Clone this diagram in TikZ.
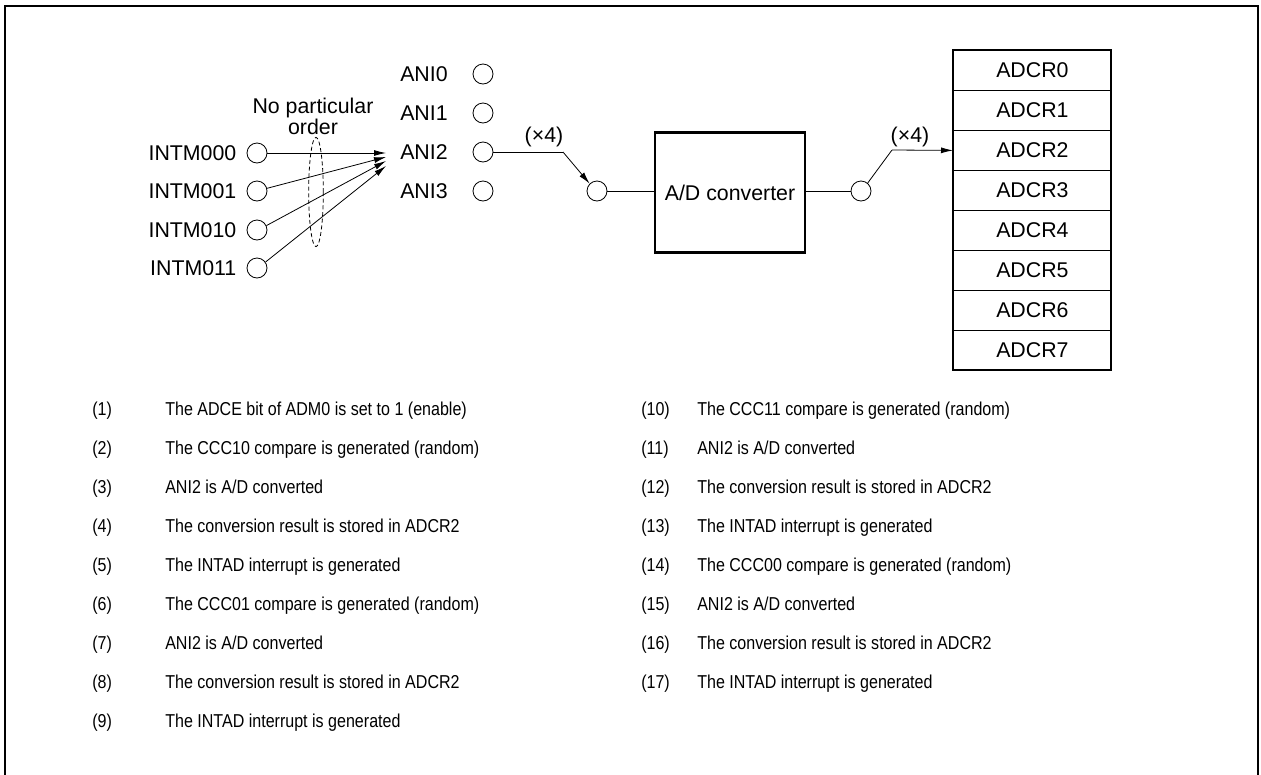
\documentclass[tikz,border=0pt]{standalone}
\usepackage{fontspec}
\setmainfont{Liberation Sans}
\newfontfamily\listfont[FakeStretch=0.86]{Liberation Sans}
\usetikzlibrary{arrows.meta}
\begin{document}
\begin{tikzpicture}[x=0.75pt,y=-0.75pt,
  every node/.style={font=\fontsize{16}{18}\selectfont, inner sep=0pt},
  pin/.style={circle, draw, line width=0.6pt, minimum size=15pt, inner sep=0pt},
  wire/.style={line width=0.6pt},
  arr/.style={wire, -{Latex[length=9pt,width=4.5pt]}},
  thick box/.style={draw, line width=1.6pt},
  cell/.style={draw, line width=0.6pt, minimum width=118.5pt, minimum height=30pt, anchor=north west},
  item/.style={anchor=base west, font=\listfont\fontsize{14}{16}\selectfont}]
\useasboundingbox (0,0) rectangle (1261,775);
% outer frame (open at the bottom)
\draw[line width=1.8pt] (5,780) -- (5,6) -- (1258,6) -- (1258,780);

% INTM inputs
\foreach \n/\y in {000/153,001/191,010/230,011/268}{
  \node[pin] (c\n) at (257,\y) {};
  \node[anchor=east] (t\n) at ([xshift=-7.5pt]c\n.west) {INTM\n};
}
% ANI inputs
\foreach \i/\y in {0/74,1/113,2/152,3/191}{
  \node[anchor=west] (a\i) at (400,\y) {ANI\i};
  \node[pin] (p\i) at (483,\y) {};
}
\coordinate (tip0) at (386,153);
\coordinate (tip1) at (386,157);
\coordinate (tip2) at (386,161);
\coordinate (tip3) at (386,166);
\draw[arr] (c000.east) -- (tip0);
\draw[arr] (c001.15) -- (tip1);
\draw[arr] (c010.25) -- (tip2);
\draw[arr] (c011.35) -- (tip3);
\draw[wire, dash pattern=on 3pt off 2pt] (316,192) ellipse (5.5pt and 41pt);
\node[align=center, font=\fontsize{16}{13}\selectfont] (npo) at (313,116) {No particular\\order};

% first switch
\node[pin] (s1) at (597,191) {};
\coordinate (k1) at (563,152);
\draw[wire] (p2.east) -- (k1);
\draw[arr] (k1) -- (s1.135);
\node (x1) at (544,137) {(\texttimes4)};

% A/D converter
\node[thick box, minimum width=112.5pt, minimum height=90pt] (adc) at (730,192.5) {A/D converter};
\draw[wire] (s1.east) -- (s1.east -| adc.west);
\node[pin] (s2) at (861,191) {};
\draw[wire] (s2.west -| adc.east) -- (s2.west);

% registers
\foreach \r in {0,...,7}{
  \node[cell] (r\r) at (953,{50+40*\r}) {};
  \node (l\r) at (r\r.center) {ADCR\r};
}
\draw[line width=1.6pt] (953,50) rectangle (1111,370);
\coordinate (k2) at (892,150);
\draw[wire] (s2.50) -- (k2);
\draw[arr] (k2) -- (r2.west);
\node (x2) at (910,137) {(\texttimes4)};

% list
\foreach \k/\t [count=\j from 0] in {
  1/{The ADCE bit of ADM0 is set to 1 (enable)},
  2/{The CCC10 compare is generated (random)},
  3/{ANI2 is A/D converted},
  4/{The conversion result is stored in ADCR2},
  5/{The INTAD interrupt is generated},
  6/{The CCC01 compare is generated (random)},
  7/{ANI2 is A/D converted},
  8/{The conversion result is stored in ADCR2},
  9/{The INTAD interrupt is generated}}{
  \node[item] (n\k) at (92,{415+39*\j}) {(\k)};
  \node[item] (d\k) at (165,{415+39*\j}) {\t};
}
\foreach \k/\t [count=\j from 0] in {
  10/{The CCC11 compare is generated (random)},
  11/{ANI2 is A/D converted},
  12/{The conversion result is stored in ADCR2},
  13/{The INTAD interrupt is generated},
  14/{The CCC00 compare is generated (random)},
  15/{ANI2 is A/D converted},
  16/{The conversion result is stored in ADCR2},
  17/{The INTAD interrupt is generated}}{
  \node[item] (n\k) at (641,{415+39*\j}) {(\k)};
  \node[item] (d\k) at (697,{415+39*\j}) {\t};
}
\end{tikzpicture}
\end{document}
